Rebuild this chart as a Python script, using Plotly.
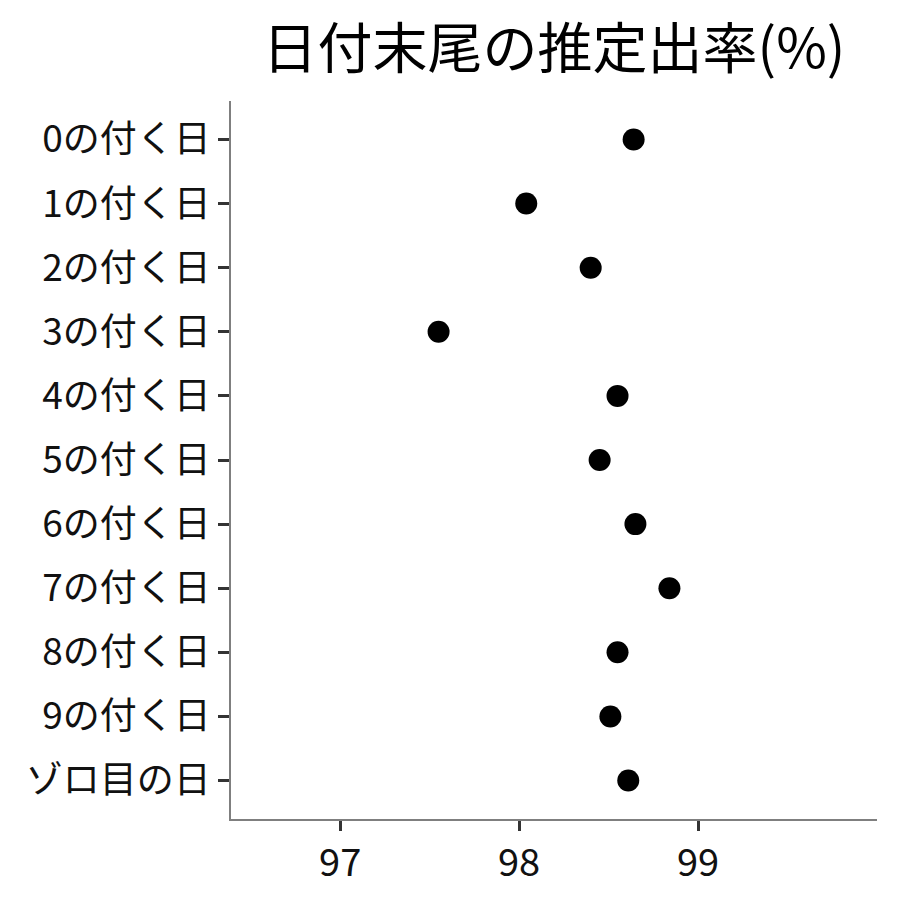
import plotly.graph_objects as go

categories = ["0の付く日", "1の付く日", "2の付く日", "3の付く日", "4の付く日",
              "5の付く日", "6の付く日", "7の付く日", "8の付く日", "9の付く日", "ゾロ目の日"]
values = [98.64, 98.04, 98.40, 97.55, 98.55, 98.45, 98.65, 98.84, 98.55, 98.51, 98.61]
x_ticks = [97, 98, 99]
title_text = "日付末尾の推定出率(%)"

font = "Noto Sans CJK JP"

fig = go.Figure(go.Scatter(
    x=values, y=categories, mode="markers",
    marker=dict(color="black", size=22),
))

fig.update_layout(
    width=900, height=900,
    margin=dict(l=223, r=31, t=93, b=89),
    paper_bgcolor="white", plot_bgcolor="white",
    font=dict(family=font, color="black"),
    title=dict(text=title_text, x=0.5, xref="paper", xanchor="center",
               y=0.955, yref="container", yanchor="middle",
               font=dict(size=55, family=font, color="black")),
    showlegend=False,
)

fig.update_xaxes(
    range=[96.39, 100.0], tickvals=x_ticks, ticktext=[str(t) for t in x_ticks],
    showgrid=False, zeroline=False, showline=True, linecolor="#7f7f7f", linewidth=1.5,
    ticks="outside", ticklen=10, tickwidth=3, tickcolor="#333333",
    tickfont=dict(size=38, family=font, color="#111111"),
)
fig.update_yaxes(
    type="category", categoryorder="array", categoryarray=categories,
    range=[10.6, -0.6],
    showgrid=False, zeroline=False, showline=True, linecolor="#7f7f7f", linewidth=1.5,
    ticks="outside", ticklen=11, tickwidth=3, tickcolor="#333333",
    tickfont=dict(size=37, family=font, color="#111111"),
)

fig.write_html("out.html")
